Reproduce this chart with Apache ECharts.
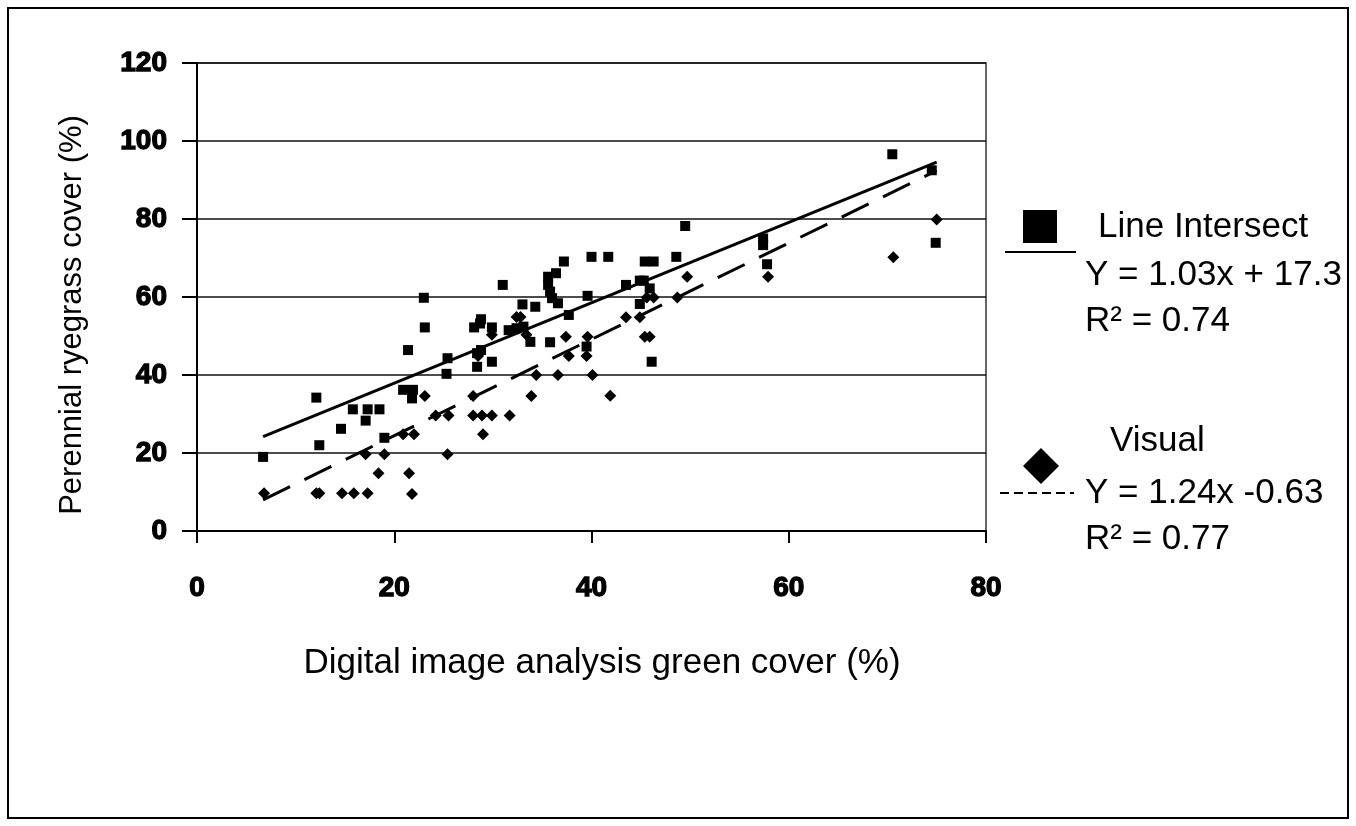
<!DOCTYPE html>
<html>
<head>
<meta charset="utf-8">
<script src="https://cdn.jsdelivr.net/npm/echarts@6/dist/echarts.min.js"></script>
<style>
  html, body { margin: 0; padding: 0; background: #fff; }
  #chart { width: 1356px; height: 826px; }
</style>
</head>
<body>
<div id="chart"></div>
<script>
// Line Intersect readings (x = image green cover, y = ryegrass cover)
const lineIntersect = [
  [6.7, 19.0], [12.1, 34.2], [12.4, 22.0], [14.6, 26.2], [15.8, 31.2], [17.3, 31.2],
  [18.5, 31.2], [17.1, 28.3], [19.0, 23.9], [21.4, 46.4], [20.9, 36.2], [21.9, 36.2],
  [21.8, 34.0], [23.0, 59.8], [23.1, 52.2], [25.4, 44.3], [25.3, 40.3], [31.0, 63.1],
  [33.0, 58.1], [34.3, 57.5], [28.1, 52.2], [28.8, 54.3], [28.7, 53.2], [29.9, 52.2],
  [31.6, 51.5], [28.4, 45.6], [28.8, 46.4], [28.4, 42.1], [29.9, 43.4], [33.8, 48.5],
  [32.4, 52.0], [33.1, 52.4], [37.2, 69.1], [40.0, 70.3], [41.7, 70.3], [36.4, 66.1],
  [35.6, 65.2], [35.6, 63.1], [35.8, 61.4], [36.0, 59.7], [36.6, 58.4], [39.6, 60.3],
  [43.5, 63.1], [37.7, 55.4], [35.8, 48.4], [39.5, 47.3], [45.4, 69.1], [46.3, 69.1],
  [48.6, 70.3], [44.9, 64.2], [45.3, 64.2], [45.9, 62.2], [44.9, 58.2], [46.1, 43.4],
  [49.5, 78.2], [70.5, 96.6], [57.4, 75.0], [57.4, 73.3], [57.8, 68.4], [74.9, 73.9],
  [74.5, 92.5]
];

// Visual readings
const visual = [
  [6.8, 9.7], [12.1, 9.7], [12.4, 9.7], [14.7, 9.7], [15.9, 9.7], [17.3, 9.7],
  [18.4, 14.8], [17.1, 19.7], [19.0, 19.7], [20.9, 24.8], [22.0, 24.8], [21.5, 14.8],
  [21.8, 9.5], [25.4, 19.7], [23.1, 34.6], [24.2, 29.6], [25.5, 29.6], [28.0, 29.6],
  [28.9, 29.6], [29.9, 29.6], [31.7, 29.6], [29.0, 24.8], [28.0, 34.6], [33.9, 34.6],
  [34.4, 40.0], [32.4, 54.9], [32.8, 54.9], [33.4, 50.3], [29.9, 50.3], [28.5, 44.9],
  [37.4, 49.8], [39.6, 49.8], [39.5, 44.9], [37.7, 44.9], [43.5, 54.8], [36.6, 40.0],
  [40.1, 40.0], [41.9, 34.7], [49.7, 65.2], [45.6, 59.9], [46.3, 59.9], [48.7, 59.9],
  [44.9, 54.8], [45.4, 49.8], [45.9, 49.8], [57.9, 65.2], [70.6, 70.2], [75.0, 79.9]
];

// fitted line end points as drawn
const lineIntersectFit = [[6.7, 24.2], [75, 94.6]];
const visualFit = [[6.7, 8.0], [75, 92.4]];

const xTicks = [0, 20, 40, 60, 80];
const yTicks = [0, 20, 40, 60, 80, 100, 120];

const legendText = {
  li: ["Line Intersect", "Y = 1.03x + 17.3", "R\u00b2 = 0.74"],
  vis: ["Visual", "Y = 1.24x -0.63", "R\u00b2 = 0.77"]
};

const font = "'Liberation Sans', Arial, sans-serif";

const chart = echarts.init(document.getElementById("chart"));

function txt(x, y, s) {
  return {
    type: "text", left: x, top: y,
    style: { text: s, font: "35px " + font, fill: "#000" }
  };
}

const tickLabel = {
  color: "#000", fontFamily: font, fontWeight: "bold", fontSize: 28,
  textBorderColor: "#000", textBorderWidth: 1.3
};

chart.setOption({
  backgroundColor: "#fff",
  animation: false,
  grid: {
    left: 197, right: 370, top: 63, bottom: 295,
    show: true, borderColor: "#333", borderWidth: 1.5
  },
  xAxis: {
    type: "value",
    min: xTicks[0], max: xTicks[xTicks.length - 1], interval: 20,
    axisLine: { lineStyle: { color: "#000", width: 2 } },
    axisTick: { show: true, length: 12, lineStyle: { color: "#000", width: 2 } },
    axisLabel: Object.assign({ margin: 43 }, tickLabel),
    splitLine: { show: false }
  },
  yAxis: {
    type: "value",
    min: yTicks[0], max: yTicks[yTicks.length - 1], interval: 20,
    axisLine: { show: true, lineStyle: { color: "#000", width: 2 } },
    axisTick: { show: true, length: 15, lineStyle: { color: "#000", width: 2 } },
    axisLabel: Object.assign({ margin: 30 }, tickLabel),
    splitLine: { show: true, lineStyle: { color: "#111", width: 1.5 } }
  },
  series: [
    {
      name: "Line Intersect", type: "scatter", data: lineIntersect,
      symbol: "rect", symbolSize: 10, itemStyle: { color: "#000", opacity: 1 }
    },
    {
      name: "Visual", type: "scatter", data: visual,
      symbol: "diamond", symbolSize: 12, itemStyle: { color: "#000", opacity: 1 }
    },
    {
      type: "line", data: lineIntersectFit, symbol: "none",
      lineStyle: { color: "#000", width: 3 }
    },
    {
      type: "line", data: visualFit, symbol: "none",
      lineStyle: { color: "#000", width: 3, type: [30, 16] }
    }
  ],
  graphic: [
    { type: "rect", shape: { x: 8, y: 8, width: 1340, height: 810 },
      style: { fill: "none", stroke: "#000", lineWidth: 2 } },
    // axis titles
    { type: "text", x: 72, y: 315, rotation: Math.PI / 2,
      style: { text: "Perennial ryegrass cover (%)", font: "31px " + font, fill: "#000",
               align: "center", verticalAlign: "middle" } },
    { type: "text", x: 602, y: 663,
      style: { text: "Digital image analysis green cover (%)", font: "35px " + font, fill: "#000",
               align: "center", verticalAlign: "middle" } },
    // Line Intersect key
    { type: "rect", shape: { x: 1023, y: 210, width: 34, height: 33 }, style: { fill: "#000" } },
    { type: "line", shape: { x1: 1005, y1: 252, x2: 1076, y2: 252 },
      style: { stroke: "#000", lineWidth: 2 } },
    txt(1098, 210, legendText.li[0]),
    txt(1085, 258, legendText.li[1]),
    txt(1085, 304, legendText.li[2]),
    // Visual key
    { type: "polygon", shape: { points: [[1041, 448], [1059, 466], [1041, 484], [1023, 466]] },
      style: { fill: "#000" } },
    { type: "line", shape: { x1: 1000, y1: 493, x2: 1074, y2: 493 },
      style: { stroke: "#000", lineWidth: 2, lineDash: [9, 5] } },
    txt(1110, 424, legendText.vis[0]),
    txt(1085, 476, legendText.vis[1]),
    txt(1085, 522, legendText.vis[2])
  ]
});
</script>
</body>
</html>
